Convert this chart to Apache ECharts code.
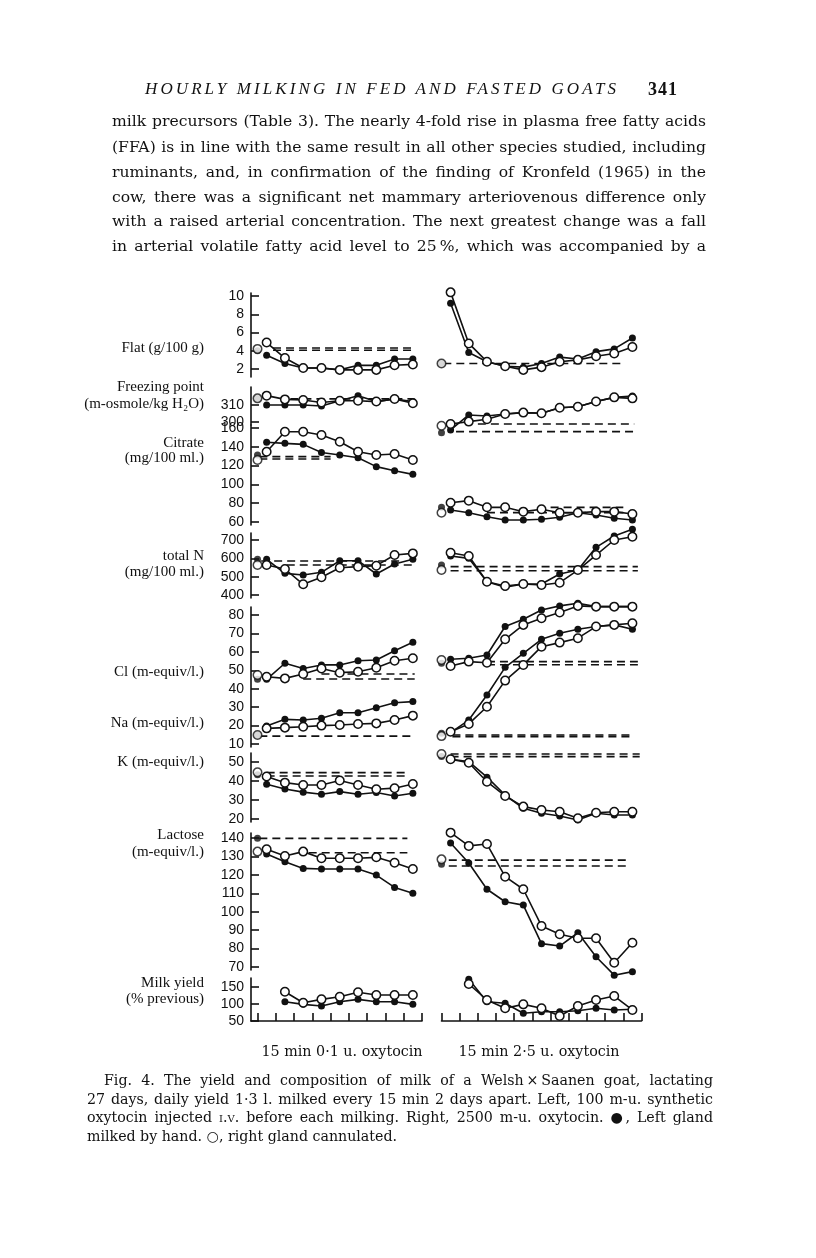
<!DOCTYPE html>
<html><head><meta charset="utf-8">
<script src="https://cdn.jsdelivr.net/npm/echarts@6/dist/echarts.min.js"></script>
<style>
html,body{margin:0;padding:0;background:#fff;}
#page{position:relative;width:816px;height:1258px;overflow:hidden;background:#fff;}
#chart{position:absolute;left:0;top:0;width:816px;height:1258px;}
.t{position:absolute;font-family:"DejaVu Serif",serif;color:#111;white-space:nowrap;}
.j{text-align:justify;text-align-last:justify;white-space:nowrap;}
.p{font-size:15.6px;line-height:20px;left:112px;width:594px;}
.c{font-size:14.2px;line-height:18px;left:87px;width:626px;}
</style></head><body>
<div id="page">
<div id="chart"></div>
<div class="t" style="left:145px;top:79px;font-family:'Liberation Serif',serif;font-style:italic;font-size:17px;letter-spacing:3.1px;">HOURLY MILKING IN FED AND FASTED GOATS</div>
<div class="t" style="left:648px;top:79px;font-family:'Liberation Serif',serif;font-size:18px;font-weight:bold;letter-spacing:1px;">341</div>
<div class="t p j" style="top:111px;">milk precursors (Table 3). The nearly 4-fold rise in plasma free fatty acids</div>
<div class="t p j" style="top:137px;">(FFA) is in line with the same result in all other species studied, including</div>
<div class="t p j" style="top:162px;">ruminants, and, in confirmation of the finding of Kronfeld (1965) in the</div>
<div class="t p j" style="top:187px;">cow, there was a significant net mammary arteriovenous difference only</div>
<div class="t p j" style="top:211px;">with a raised arterial concentration. The next greatest change was a fall</div>
<div class="t p j" style="top:236px;">in arterial volatile fatty acid level to 25&#8201;%, which was accompanied by a</div>
<div class="t c j" style="top:1071px;left:104px;width:609px;">Fig. 4. The yield and composition of milk of a Welsh&#8201;×&#8201;Saanen goat, lactating</div>
<div class="t c j" style="top:1090px;">27 days, daily yield 1·3 l. milked every 15 min 2 days apart. Left, 100 m-u. synthetic</div>
<div class="t c j" style="top:1108px;">oxytocin injected <span style="font-variant:small-caps">i.v.</span> before each milking. Right, 2500 m-u. oxytocin. ●, Left gland</div>
<div class="t c" style="top:1127px;">milked by hand. ○, right gland cannulated.</div>
</div>
<script>
// ---------------- DATA ----------------
const xLeft = [0.5, 1.5, 2.5, 3.5, 4.5, 5.5, 6.5, 7.5, 8.5];
const xRight = [0.5, 1.5, 2.5, 3.5, 4.5, 5.5, 6.5, 7.5, 8.5, 9.5, 10.5];
const xYieldLeft = [1.5, 2.5, 3.5, 4.5, 5.5, 6.5, 7.5, 8.5];
const xYieldRight = [1.5, 2.5, 3.5, 4.5, 5.5, 6.5, 7.5, 8.5, 9.5, 10.5];
const xCtrl = 0;
const xTicksLeft = [0, 1, 2, 3, 4, 5, 6, 7, 8, 9];
const xTicksRight = [0, 1, 2, 3, 4, 5, 6, 7, 8, 9, 10, 11];

const fatTicks = [2, 4, 6, 8, 10];
const fpTicks = [300, 310];
const citTicks = [60, 80, 100, 120, 140, 160];
const tnTicks = [400, 500, 600, 700];
const ionTicks = [10, 20, 30, 40, 50, 60, 70, 80];
const kTicks = [20, 30, 40, 50];
const lacTicks = [70, 80, 90, 100, 110, 120, 130, 140];
const myTicks = [50, 100, 150];

// left panel (0.1 u. oxytocin). ctrl = [open, filled] at x=0; ref = [xStart, xEnd, value]
const fatL_open = [4.9, 3.2, 2.1, 2.1, 1.9, 1.9, 1.9, 2.4, 2.5];
const fatL_filled = [3.5, 2.6, 2.1, 2.1, 1.9, 2.4, 2.4, 3.1, 3.1];
const fatL_ctrl = [4.2, 4.0];
const fatL_ref = [[0.85, 8.6, 4.3], [0.85, 8.6, 4.05]];

const fpL_open = [315.5, 313.3, 312.9, 311.5, 312.5, 312.5, 312, 313.5, 311];
const fpL_filled = [310, 310, 310, 309.4, 312.5, 315.5, 312, 313.5, 312];
const fpL_ctrl = [313.9, 313.9];
const fpL_ref = [[1.8, 8.5, 313.6]];

const citL_open = [134.8, 156, 156, 152.6, 145.4, 134.8, 131.3, 132.3, 126];
const citL_filled = [144.8, 143.7, 142.6, 134, 131.3, 128.4, 118.9, 114.6, 110.7];
const citL_ctrl = [126, 131.3];
const citL_ref = [[0.1, 4.0, 129.5], [0.1, 4.0, 127]];

const tnL_open = [563.6, 541.8, 458.4, 496.5, 549, 554.5, 560, 618, 627];
const tnL_filled = [594.7, 518, 509, 523.7, 587, 587, 514.5, 569, 594.7];
const tnL_ctrl = [563.6, 594.7];
const tnL_ref = [[0.2, 7.8, 585.5], [1.6, 8.6, 563.6]];

const clL_open = [46.5, 45.6, 48, 51, 48.7, 49.2, 51.4, 55.2, 56.5];
const clL_filled = [45.1, 53.8, 51, 52.9, 52.9, 55.2, 55.6, 60.6, 65.2];
const clL_ctrl = [47.4, 45.1];
const clL_ref = [[3.5, 8.6, 48], [2.5, 8.6, 45.3]];

const naL_open = [18.5, 18.9, 19.4, 20, 20.3, 20.9, 21.2, 23, 25.4];
const naL_filled = [19.8, 23.4, 23, 24, 27, 27, 29.7, 32.4, 33];
const naL_ctrl = [14.9, 14.9];
const naL_ref = [[0.1, 8.6, 14.3]];

const kL_open = [42.3, 39.1, 37.9, 37.9, 40.2, 37.9, 35.6, 36.2, 38.4];
const kL_filled = [38.3, 35.8, 34.1, 33, 34.4, 33, 33.9, 32.1, 33.5];
const kL_ctrl = [44.6, 43.2];
const kL_ref = [[0.5, 8.3, 44.4], [0.5, 8.3, 42.6]];

const lacL_open = [133.9, 130.2, 132.6, 129, 129, 129, 129.5, 126.6, 123.2];
const lacL_filled = [131.3, 127.1, 123.5, 123.2, 123.2, 123.2, 119.9, 113.2, 110];
const lacL_ctrl = [132.6, 139.8];
const lacL_ref = [[0.1, 8.2, 139.8], [2.8, 8.2, 132]];

const myL_open = [136, 103.8, 113.7, 121.5, 134.4, 126.5, 126.5, 126.5];
const myL_filled = [106.8, 99, 94, 106.8, 113.7, 106.8, 106.8, 99];

// right panel (2.5 u. oxytocin)
const fatR_open = [10.4, 4.8, 2.8, 2.3, 1.9, 2.2, 2.8, 3.0, 3.4, 3.7, 4.4];
const fatR_filled = [9.2, 3.8, 2.8, 2.3, 2.2, 2.6, 3.3, 3.1, 3.9, 4.2, 5.4];
const fatR_ctrl = [2.6, 2.6];
const fatR_ref = [[0.1, 10.0, 2.6]];

const fpR_open = [298.8, 300.2, 301.6, 304.7, 305.5, 305.1, 308.4, 309, 312, 314.5, 313.9];
const fpR_filled = [295.3, 304.1, 303.5, 304.7, 305.5, 305.1, 308.4, 309, 312, 314.5, 315.3];
const fpR_ctrl = [297.8, 293.7];
const fpR_ref = [[2.0, 10.6, 298.8], [0.8, 10.6, 294.3]];

const citR_open = [80.5, 82.7, 75.6, 75.6, 71, 73.5, 69.9, 69.9, 71, 71, 68.5];
const citR_filled = [72.8, 69.9, 65.6, 62.1, 62.1, 62.9, 65, 69.9, 67.4, 63.9, 62.1];
const citR_ctrl = [69.9, 75.6];
const citR_ref = [[6.0, 10.0, 75.6], [2.5, 10.0, 70]];

const tnR_open = [630.9, 612.7, 472.7, 449, 460, 454.5, 467, 536, 618, 700, 718];
const tnR_filled = [612.7, 600, 472.7, 442, 460, 460, 514.5, 536, 660, 721.8, 758];
const tnR_ctrl = [536, 563.6];
const tnR_ref = [[0.5, 10.8, 554.5], [0.5, 10.8, 532.6]];

const clR_open = [52.3, 54.7, 54.1, 66.8, 74.6, 78.2, 81.3, 84.9, 84.5, 84.5, 84.5];
const clR_filled = [56, 56.5, 58.3, 73.7, 77.7, 82.7, 84.9, 86.3, 84.5, 84.5, 84.5];
const clR_ctrl = [55.6, 53.8];
const clR_ref = [[2.5, 10.8, 54.7], [2.5, 10.8, 53]];

const naR_open = [16.7, 20.9, 30.2, 44.4, 52.9, 62.8, 65, 67.4, 73.7, 74.6, 75.5];
const naR_filled = [16.2, 23, 36.6, 51.6, 59.2, 66.8, 70.1, 72.2, 73.7, 74.6, 72.2];
const naR_ctrl = [14.3, 15.8];
const naR_ref = [[0.6, 10.5, 14.9], [0.6, 10.5, 14]];

const kR_open = [51.4, 49.6, 39.6, 32.1, 26.5, 24.7, 23.8, 20.4, 23.3, 23.8, 23.8];
const kR_filled = [51.4, 50.2, 42, 32.6, 25.6, 23, 21.6, 19.5, 23, 22.1, 22.1];
const kR_ctrl = [54.2, 52.8];
const kR_ref = [[0.5, 10.9, 54.2], [0.5, 10.9, 52.8]];

const lacR_open = [142.9, 135.7, 136.7, 119, 112.2, 92.3, 87.8, 85.6, 85.6, 72.3, 83.2];
const lacR_filled = [137.3, 126.4, 112.2, 105.4, 103.6, 82.7, 81.4, 88.6, 75.6, 65.6, 67.5];
const lacR_ctrl = [128.4, 125.8];
const lacR_ref = [[0.4, 10.4, 128], [0.4, 10.4, 124.8]];

const myR_open = [158.8, 111.8, 87.3, 99, 87.3, 64.7, 94, 111.8, 123.5, 82.4];
const myR_filled = [172.6, 106.8, 102, 72.6, 77.4, 77.4, 80.3, 87.3, 82.4, 84.4];

const rowLabels = [
  ['Flat (g/100 g)', 348], ['Freezing point', 387], ['(m-osmole/kg H\u2082O)', 404],
  ['Citrate', 443], ['(mg/100 ml.)', 458], ['total N', 556], ['(mg/100 ml.)', 572],
  ['Cl (m-equiv/l.)', 672], ['Na (m-equiv/l.)', 723], ['K (m-equiv/l.)', 762],
  ['Lactose', 835], ['(m-equiv/l.)', 852], ['Milk yield', 983], ['(% previous)', 999]
];
const xTitles = [['15 min 0\u00b71 u. oxytocin', 342], ['15 min 2\u00b75 u. oxytocin', 539]];

// ---------------- LAYOUT ----------------
const panels = {
  L: {x0: 251, x1: 422, min: -0.356, max: 9, ticks: xTicksLeft},
  R: {x0: 441.5, x1: 641.5, min: 0, max: 11, ticks: xTicksRight}
};
const rows = [
  {top: 293, bottom: 377, vTop: 10.33, vBot: 1.12, ticks: fatTicks,
   L: [[fatL_open, fatL_filled, fatL_ctrl, fatL_ref]], R: [[fatR_open, fatR_filled, fatR_ctrl, fatR_ref]]},
  {top: 387, bottom: 425, vTop: 320.6, vBot: 298.2, ticks: fpTicks,
   L: [[fpL_open, fpL_filled, fpL_ctrl, fpL_ref]], R: [[fpR_open, fpR_filled, fpR_ctrl, fpR_ref]]},
  {top: 425, bottom: 525, vTop: 163.2, vBot: 56.8, ticks: citTicks,
   L: [[citL_open, citL_filled, citL_ctrl, citL_ref]], R: [[citR_open, citR_filled, citR_ctrl, citR_ref]]},
  {top: 533, bottom: 598, vTop: 738.2, vBot: 383.6, ticks: tnTicks,
   L: [[tnL_open, tnL_filled, tnL_ctrl, tnL_ref]], R: [[tnR_open, tnR_filled, tnR_ctrl, tnR_ref]]},
  {top: 607, bottom: 747, vTop: 84.3, vBot: 8.4, ticks: ionTicks,
   L: [[clL_open, clL_filled, clL_ctrl, clL_ref], [naL_open, naL_filled, naL_ctrl, naL_ref]],
   R: [[clR_open, clR_filled, clR_ctrl, clR_ref], [naR_open, naR_filled, naR_ctrl, naR_ref]]},
  {top: 753, bottom: 822, vTop: 54.7, vBot: 18.4, ticks: kTicks,
   L: [[kL_open, kL_filled, kL_ctrl, kL_ref]], R: [[kR_open, kR_filled, kR_ctrl, kR_ref]]},
  {top: 833, bottom: 970, vTop: 142.7, vBot: 68.4, ticks: lacTicks,
   L: [[lacL_open, lacL_filled, lacL_ctrl, lacL_ref]], R: [[lacR_open, lacR_filled, lacR_ctrl, lacR_ref]]},
  {top: 978, bottom: 1021, vTop: 176.5, vBot: 50, ticks: myTicks, yield: true,
   L: [[myL_open, myL_filled, null, null]], R: [[myR_open, myR_filled, null, null]]}
];

const INK = '#111';
const grid = [], xAxis = [], yAxis = [], series = [];
const zip = (xs, ys) => ys.map((v, i) => [xs[i], v]);

rows.forEach((row, ri) => {
  ['L', 'R'].forEach(side => {
    const p = panels[side];
    const gi = grid.length;
    const isBottom = ri === rows.length - 1;
    grid.push({left: p.x0, top: row.top, width: p.x1 - p.x0, height: row.bottom - row.top,
      containLabel: false, outerBoundsMode: 'none'});
    xAxis.push({type: 'value', gridIndex: gi, min: p.min, max: p.max, show: isBottom,
      axisLine: {show: true, onZero: false, lineStyle: {color: INK, width: 1.6}},
      axisTick: {show: true, inside: true, length: 8, customValues: p.ticks, lineStyle: {color: INK, width: 1.6}},
      axisLabel: {show: false}, splitLine: {show: false}});
    yAxis.push({type: 'value', gridIndex: gi, min: row.vBot, max: row.vTop, show: side === 'L',
      axisLine: {show: true, onZero: false, lineStyle: {color: INK, width: 1.6}},
      axisTick: {show: true, inside: true, length: 8, customValues: row.ticks, lineStyle: {color: INK, width: 1.6}},
      axisLabel: {show: true, customValues: row.ticks, margin: 7, color: INK,
        fontFamily: 'Liberation Sans', fontSize: 14},
      splitLine: {show: false}});
    const xs = row.yield ? (side === 'L' ? xYieldLeft : xYieldRight) : (side === 'L' ? xLeft : xRight);
    row[side].forEach(([open, filled, ctrl, ref]) => {
      if (ref) ref.forEach(([xa, xb, v]) => series.push({type: 'line', xAxisIndex: gi, yAxisIndex: gi,
        data: [[xa, v], [xb, v]], showSymbol: false, clip: false, silent: true, z: 1,
        lineStyle: {color: INK, width: 1.6, type: [8, 5]}}));
      series.push({type: 'line', xAxisIndex: gi, yAxisIndex: gi, data: zip(xs, filled), clip: false,
        symbol: 'circle', symbolSize: 7, z: 2,
        itemStyle: {color: INK, borderColor: INK, borderWidth: 0},
        lineStyle: {color: INK, width: 1.6}});
      series.push({type: 'line', xAxisIndex: gi, yAxisIndex: gi, data: zip(xs, open), clip: false,
        symbol: 'circle', symbolSize: 8.5, z: 3,
        itemStyle: {color: '#fff', borderColor: INK, borderWidth: 1.5},
        lineStyle: {color: INK, width: 1.6}});
      if (ctrl) {
        series.push({type: 'scatter', xAxisIndex: gi, yAxisIndex: gi, data: [[xCtrl, ctrl[1]]], clip: false,
          symbol: 'circle', symbolSize: 7, z: 2, itemStyle: {color: INK}});
        series.push({type: 'scatter', xAxisIndex: gi, yAxisIndex: gi, data: [[xCtrl, ctrl[0]]], clip: false,
          symbol: 'circle', symbolSize: 8.5, z: 3,
          itemStyle: {color: '#fff', borderColor: INK, borderWidth: 1.5}});
      }
    });
  });
});

const graphic = [];
rowLabels.forEach(([t, y]) => graphic.push({type: 'text', x: 204, y: y,
  style: {text: t, align: 'right', verticalAlign: 'middle', fill: INK,
    font: '15px "Liberation Serif", serif'}}));
xTitles.forEach(([t, x]) => graphic.push({type: 'text', x: x, y: 1052,
  style: {text: t, align: 'center', verticalAlign: 'middle', fill: INK,
    font: '14.3px "DejaVu Serif", serif'}}));

const chart = echarts.init(document.getElementById('chart'), null, {renderer: 'canvas'});
chart.setOption({animation: false, backgroundColor: 'transparent', grid, xAxis, yAxis, series, graphic});
</script>
</body></html>
